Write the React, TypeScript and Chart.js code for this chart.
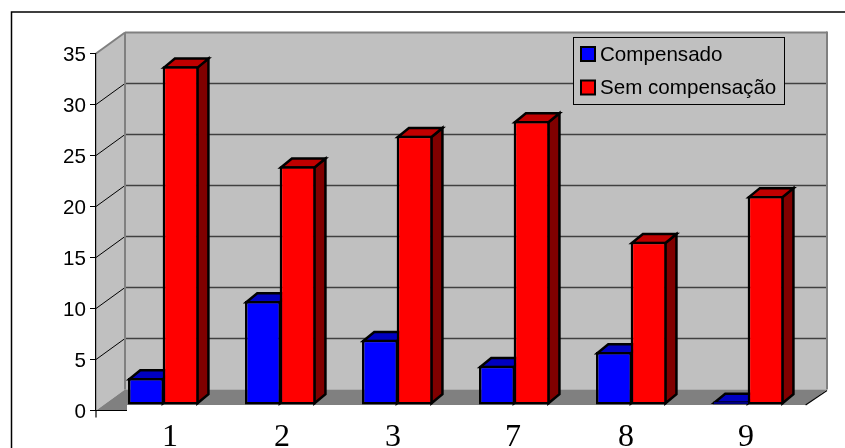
import { useEffect, useRef } from "react";
import { Chart, registerables } from "chart.js";

Chart.register(...registerables);

const categories = ["1", "2", "3", "7", "8", "9"];
const compensado = [2.65, 10.2, 6.4, 3.85, 5.2, 0.35];
const semCompensacao = [33.2, 23.4, 26.4, 27.85, 16, 20.5];
const seriesNames = ["Compensado", "Sem compensação"];

const WALL_DX = 29;
const WALL_DY = -21;
const BAR_DX = 11;
const BAR_DY = -9;
const BAR_SHIFT_X = 8.85;
const BAR_SHIFT_Y = -5.5;
const BAR_BORDER = 2.5;
const SILVER = "#C0C0C0";
const WALL_EDGE = "#808080";
const CATEGORY_LABEL_NUDGE = [7, 2, -4, -1, -5, -2];

const shades: Record<string, { top: string; side: string }> = {
  "#0000FF": { top: "#0000C0", side: "#000080" },
  "#FF0000": { top: "#C00000", side: "#800000" },
};

function poly(ctx: CanvasRenderingContext2D, pts: number[][], fill?: string, stroke?: string, lw = 1) {
  ctx.beginPath();
  pts.forEach(([x, y], i) => (i ? ctx.lineTo(x, y) : ctx.moveTo(x, y)));
  ctx.closePath();
  if (fill) {
    ctx.fillStyle = fill;
    ctx.fill();
  }
  if (stroke) {
    ctx.strokeStyle = stroke;
    ctx.lineWidth = lw;
    ctx.lineJoin = "miter";
    ctx.stroke();
  }
}

function line(ctx: CanvasRenderingContext2D, x0: number, y0: number, x1: number, y1: number, color: string, lw: number) {
  ctx.beginPath();
  ctx.moveTo(x0, y0);
  ctx.lineTo(x1, y1);
  ctx.strokeStyle = color;
  ctx.lineWidth = lw;
  ctx.stroke();
}

// Frame, walls, floor and gridlines of the box behind the bars
const boxPlugin = {
  id: "box",
  beforeDraw(chart: any) {
    const { ctx, chartArea: a, width, height } = chart;
    const y = chart.scales.y;
    ctx.save();
    ctx.fillStyle = "#FFFFFF";
    ctx.fillRect(0, 0, width, height);
    ctx.strokeStyle = "#000000";
    ctx.lineWidth = 1.5;
    ctx.strokeRect(11.5, 12, width + 40, height + 40);

    const backL = a.left + WALL_DX;
    const backR = a.right + WALL_DX;
    const backT = a.top + WALL_DY;
    const backB = a.bottom + WALL_DY;
    const cutY = a.bottom + BAR_SHIFT_Y;
    const cutRight = a.right + (BAR_SHIFT_Y / WALL_DY) * WALL_DX;

    poly(ctx, [[backL, backT], [backR, backT], [backR, backB], [backL, backB]], SILVER);
    poly(ctx, [[a.left, a.top], [backL, backT], [backL, backB], [a.left, a.bottom]], SILVER);
    poly(
      ctx,
      [[a.left, a.bottom], [backL, backB], [backR, backB], [cutRight, cutY], [backL + 2, cutY], [backL + 2, a.bottom]],
      WALL_EDGE
    );

    for (const tick of y.ticks) {
      if (tick.value === 0 || tick.value === y.max) continue;
      const py = y.getPixelForValue(tick.value);
      line(ctx, a.left, py, backL, py + WALL_DY, "#000000", 1);
      line(ctx, backL, py + WALL_DY, backR, py + WALL_DY, "#404040", 1.4);
    }

    line(ctx, a.left, a.top, backL, backT, WALL_EDGE, 2);
    line(ctx, backL, backT, backR, backT, WALL_EDGE, 2);
    line(ctx, backL, backT, backL, backB, WALL_EDGE, 2);
    line(ctx, backR, backT - 1, backR, backB, WALL_EDGE, 2);
    line(ctx, cutRight, cutY, backR, backB + 1, "#000000", 1.2);
    line(ctx, a.left - 6, a.bottom, backL + 2, a.bottom, "#000000", 1.2);
    line(ctx, a.left, a.bottom, a.left, a.bottom + 7, "#000000", 1.2);
    ctx.restore();

    // Fine placement of the axis labels (the item list is cached until the next update)
    y.getLabelItems().forEach((item: any) => {
      item.options.translation[1] += 1.5;
    });
    chart.scales.x.getLabelItems().forEach((item: any, i: number) => {
      item.options.translation[0] += CATEGORY_LABEL_NUDGE[i];
    });
  },
  // Bars stand a little way into the box, so their plane sits behind the axis plane.
  // Side and top faces go down first, left series before right, so that a neighbour's
  // front face hides them.
  beforeDatasetsDraw(chart: any) {
    const { ctx } = chart;
    ctx.save();
    ctx.translate(BAR_SHIFT_X, BAR_SHIFT_Y);
    const inset = BAR_BORDER / 2;
    chart.data.datasets.forEach((ds: any, index: number) => {
      const shade = shades[ds.backgroundColor];
      for (const bar of chart.getDatasetMeta(index).data) {
        const half = bar.width / 2;
        const l = bar.x - half + inset;
        const r = bar.x + half - inset;
        const t = bar.y + inset;
        const b = bar.base - inset;
        poly(ctx, [[r, t], [r + BAR_DX, t + BAR_DY], [r + BAR_DX, b + BAR_DY], [r, b]], shade.side, "#000000", BAR_BORDER);
        poly(ctx, [[l, t], [l + BAR_DX, t + BAR_DY], [r + BAR_DX, t + BAR_DY], [r, t]], shade.top, "#000000", BAR_BORDER);
      }
    });
  },
  afterDatasetsDraw(chart: any) {
    chart.ctx.restore();
  },
  // Legend panel in the upper right of the back wall
  afterDraw(chart: any) {
    const { ctx } = chart;
    ctx.save();
    ctx.fillStyle = SILVER;
    ctx.fillRect(573.5, 37.5, 211, 67);
    ctx.strokeStyle = "#000000";
    ctx.lineWidth = 1;
    ctx.strokeRect(573.5, 37.5, 211, 67);
    ctx.font = '20.6px "Liberation Sans"';
    ctx.textBaseline = "middle";
    chart.data.datasets.forEach((ds: any, i: number) => {
      const cy = 54 + i * 33.5;
      ctx.fillStyle = ds.backgroundColor;
      ctx.fillRect(581, cy - 7, 14, 14);
      ctx.strokeStyle = "#000000";
      ctx.lineWidth = 2;
      ctx.strokeRect(581, cy - 7, 14, 14);
      ctx.fillStyle = "#000000";
      ctx.fillText(ds.label, 600, cy + 1);
    });
    ctx.restore();
  },
};

export default function App() {
  const ref = useRef<HTMLCanvasElement>(null);
  useEffect(() => {
    const chart = new Chart(ref.current!, {
      type: "bar",
      plugins: [boxPlugin],
      data: {
        labels: categories,
        datasets: [
          { label: seriesNames[0], data: compensado, backgroundColor: "#0000FF" },
          { label: seriesNames[1], data: semCompensacao, backgroundColor: "#FF0000" },
        ].map((d) => ({
          ...d,
          borderColor: "#000000",
          borderWidth: (c: any) => (c.raw < 1 ? 1 : BAR_BORDER),
          borderSkipped: false,
          inflateAmount: 0,
          barPercentage: 1.04,
          categoryPercentage: 69.3 / 117,
          clip: false as any,
        })),
      },
      options: {
        responsive: false,
        animation: false,
        layout: { padding: { left: 0, top: 53.5, right: 47, bottom: 0 } },
        plugins: { legend: { display: false }, tooltip: { enabled: false } },
        scales: {
          x: {
            afterFit: (s: any) => {
              s.height = 37.5;
            },
            grid: { display: false },
            border: { display: false },
            ticks: {
              color: "#000000",
              font: { family: '"Liberation Serif"', size: 32 },
              padding: 0,
              labelOffset: 8.5,
              maxRotation: 0,
            },
          },
          y: {
            min: 0,
            max: 35,
            afterFit: (s: any) => {
              s.width = 96;
            },
            grid: { drawOnChartArea: false, color: "#000000", tickLength: 6 },
            border: { color: "#000000", width: 1.2 },
            ticks: {
              stepSize: 5,
              color: "#000000",
              font: { family: '"Liberation Sans"', size: 20.6 },
              padding: 4,
            },
          },
        },
      },
    });
    return () => chart.destroy();
  }, []);
  return (
    <div style={{ position: "absolute", left: 0, top: 0, width: 845, height: 448 }}>
      <canvas ref={ref} width={845} height={448} style={{ display: "block" }} />
    </div>
  );
}
